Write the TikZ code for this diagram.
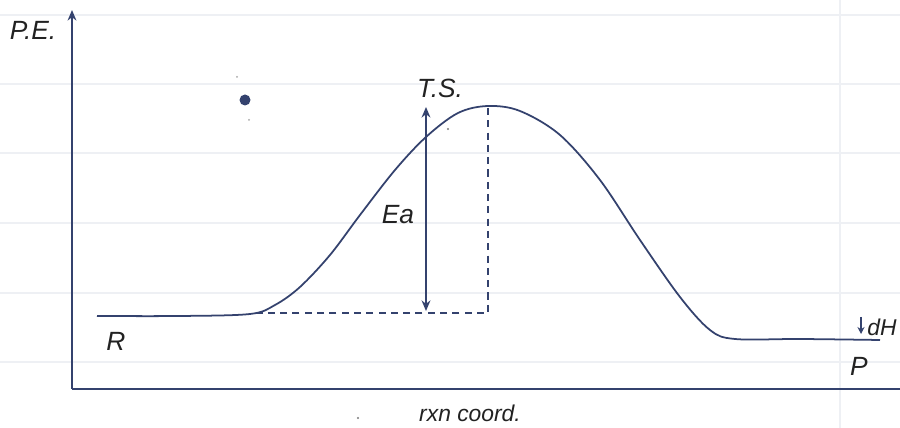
\documentclass[tikz,border=0pt]{standalone}
\usepackage{fontspec}
\setmainfont{Liberation Sans}
\usetikzlibrary{arrows.meta}
\definecolor{ink}{HTML}{34426E}
\definecolor{pencil}{HTML}{222222}
\definecolor{rule}{HTML}{EEF0F4}
\tikzset{
  axis/.style={ink, line width=1.1pt},
  curve/.style={ink, line width=1pt},
  guide/.style={ink, line width=0.8pt, dash pattern=on 4pt off 3pt},
  lbl/.style={pencil, font=\itshape\fontsize{15}{15}\selectfont, inner sep=0pt},
  small/.style={pencil, font=\itshape\fontsize{13}{13}\selectfont, inner sep=0pt},
}
\begin{document}
\begin{tikzpicture}[x=0.02cm, y=-0.02cm]
\useasboundingbox[fill=white] (0,0) rectangle (900,428);
% faint ruled paper
\foreach \yy in {15,84,153,223,293,362}{\draw[rule, line width=0.6pt] (0,\yy) -- (900,\yy);}
\draw[rule, line width=0.6pt] (840,0) -- (840,428);
% axes
\coordinate (O) at (72,389);
\coordinate (Ytop) at (72,10);
\coordinate (Xend) at (900,389);
\draw[axis, -{Stealth[length=6pt,width=5pt]}] (O) -- (Ytop);
\draw[axis] (O) -- (Xend);
% energy curve
\draw[curve] plot[smooth, tension=0.55] coordinates {
 (97,316) (180,316) (250,314) (275,305) (300,287) (330,255) (360,215)
 (395,170) (426,137) (458,113) (488,106) (520,111) (560,135) (600,180)
 (640,240) (680,297) (710,330) (735,339) (800,339) (880,340)};
% dashed guides
\coordinate (ts) at (488,108);
\coordinate (base) at (488,313);
\coordinate (rstart) at (255,313);
\draw[guide] (ts) -- (base) -- (rstart);
% Ea arrow
\coordinate (eaTop) at (426,107);
\coordinate (eaBot) at (426,311);
\draw[ink, line width=1.1pt, {Stealth[length=6pt,width=5pt]}-{Stealth[length=6pt,width=5pt]}] (eaTop) -- (eaBot);
% dH arrow
\coordinate (dhT) at (861,317);
\coordinate (dhB) at (861,334);
\draw[ink, line width=0.8pt, -{Stealth[length=4pt,width=4pt]}] (dhT) -- (dhB);
% labels
\node[lbl] (pe) at (33,30) {P.E.};
\node[lbl] (tsl) at (440,88) {T.S.};
\node[lbl] (ea) at (398,215) {Ea};
\node[lbl] (r) at (116,341) {R};
\node[lbl] (p) at (859,366) {P};
\node[small] (dh) at (882,327) {dH};
\node[small, anchor=base] (rxn) at (470,422) {rxn coord.};
% ink blot and specks
\fill[ink] (245,100) circle (5.5);
\fill[pencil!60] (358,418) circle (1.2);
\fill[pencil!40] (237,77) circle (1);
\fill[pencil!40] (249,120) circle (1);
\fill[pencil!60] (448,129) circle (1.2);
\end{tikzpicture}
\end{document}
